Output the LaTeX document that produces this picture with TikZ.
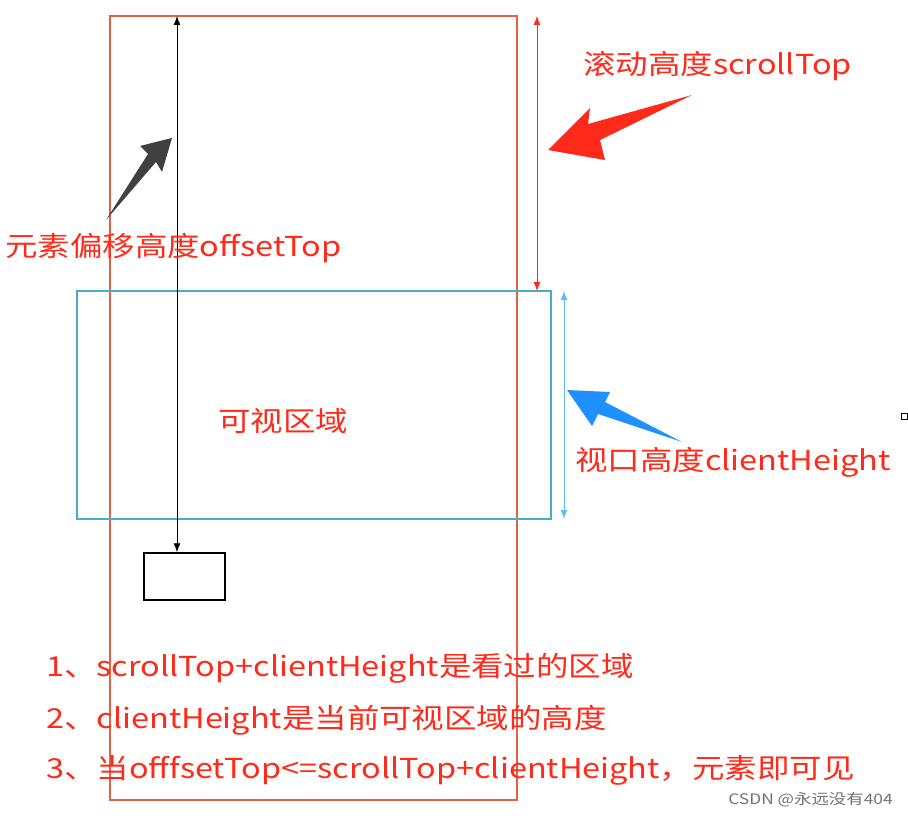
\documentclass[tikz,border=0pt]{standalone}
\usepackage{fontspec}
\setmainfont{Noto Sans CJK SC}
\usetikzlibrary{arrows.meta}
\definecolor{frame}{HTML}{E0604A}
\definecolor{view}{HTML}{4BACC6}
\definecolor{lbl}{HTML}{FF2A1A}
\definecolor{lblue}{HTML}{5BC0EB}
\definecolor{bigblue}{HTML}{1E90FF}
\begin{document}
\begin{tikzpicture}[x=1pt,y=-1pt,
  lab/.style={text=lbl,font=\fontsize{27.5}{30}\selectfont,inner sep=0pt,anchor=west,xscale=1.18},
  dbl/.style={{Latex[length=9pt,width=7pt]}-{Latex[length=9pt,width=7pt]}}]
\useasboundingbox[fill=white] (0,0) rectangle (908,818);
\draw[frame,line width=1.6pt] (110,16) rectangle (517,800);
\draw[view,line width=2pt] (77,291) rectangle (551,519);
\node[draw,line width=1.5pt,minimum width=81pt,minimum height=47pt,inner sep=0pt] (box) at (184.5,576.5) {};
\coordinate (bt) at (177,16);
\draw[dbl,black,line width=0.9pt] (bt) -- (box.north -| bt);
\coordinate (rt) at (537,16); \coordinate (rb) at (537,291);
\draw[dbl,lbl,line width=0.9pt] (rt) -- (rb);
\coordinate (ct) at (564,291); \coordinate (cb) at (564,519);
\draw[dbl,lblue,line width=1pt] (ct) -- (cb);
\fill[lbl] (548,150) -- (590,108) -- (588,124) -- (692,95) -- (600,140) -- (605,160) -- cycle;
\fill[black!75] (172,138) -- (140,146) -- (148,154) -- (106,220) -- (156,162) -- (162,172) -- cycle;
\fill[bigblue] (567,390) -- (610,392) -- (605,402) -- (682,442) -- (598,414) -- (592,426) -- cycle;
\node[lab] (t1) at (583,66) {滚动高度scrollTop};
\node[lab] (t2) at (5,248) {元素偏移高度offsetTop};
\node[lab] (t3) at (218,421) {可视区域};
\node[lab] (t4) at (575,462) {视口高度clientHeight};
\node[lab] (l1) at (46,668) {1、scrollTop+clientHeight是看过的区域};
\node[lab] (l2) at (46,720) {2、clientHeight是当前可视区域的高度};
\node[lab] (l3) at (46,770) {3、当offfsetTop<=scrollTop+clientHeight，元素即可见};
\node[text=black!55,font=\fontsize{14.5}{16}\selectfont,anchor=east,inner sep=0pt,xscale=1.2] (wm) at (893,800) {CSDN @永远没有404};
\node[draw,minimum size=6pt,inner sep=0pt,line width=0.8pt] (sq) at (904,416) {};
\end{tikzpicture}
\end{document}
